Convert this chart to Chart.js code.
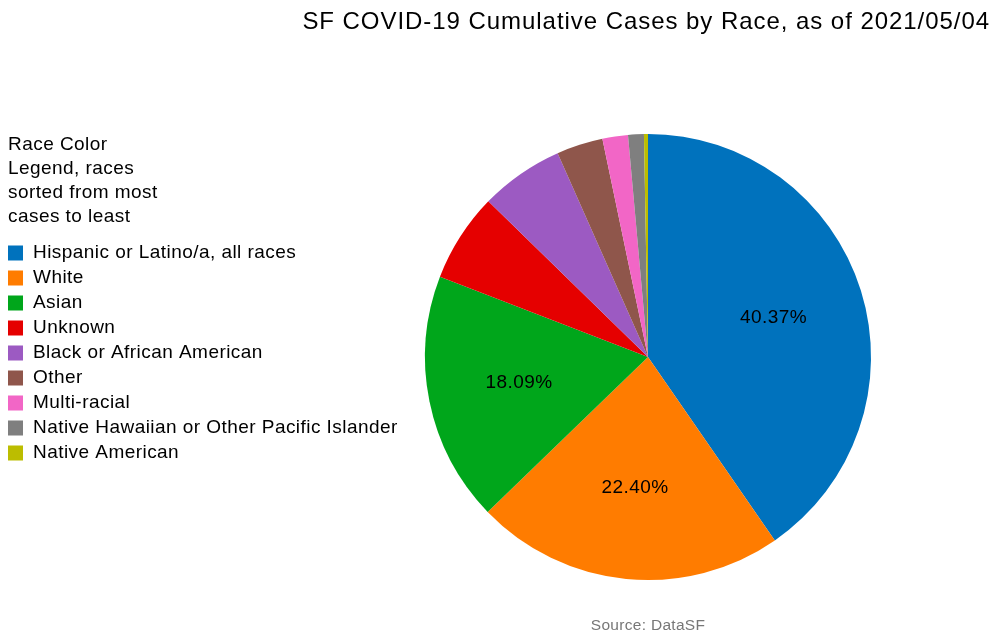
<!DOCTYPE html>
<html>
<head>
<meta charset="utf-8">
<script src="https://cdn.jsdelivr.net/npm/chart.js@4"></script>
<style>
  html, body { margin: 0; padding: 0; background: #fff; }
  #wrap { width: 1002px; height: 643px; }
</style>
</head>
<body>
<div id="wrap"><canvas id="pie" width="1002" height="643"></canvas></div>
<script>
// ── Data ──────────────────────────────────────────────────────────────────────
const RACES = [
  "Hispanic or Latino/a, all races",
  "White",
  "Asian",
  "Unknown",
  "Black or African American",
  "Other",
  "Multi-racial",
  "Native Hawaiian or Other Pacific Islander",
  "Native American"
];
const SHARES = [40.37, 22.40, 18.09, 6.44, 6.06, 3.36, 1.85, 1.14, 0.29];
const COLORS = ["#0072bd", "#ff7c00", "#00a61b", "#e50000", "#9c5ac2",
                "#8f564b", "#f266c6", "#7f7f7f", "#bcbd00"];

const TITLE = "SF COVID-19 Cumulative Cases by Race, as of 2021/05/04";
const LEGEND_TITLE = ["Race Color", "Legend, races", "sorted from most", "cases to least"];
const SOURCE = "Source: DataSF";
const FONT = '"Liberation Sans", Arial, Helvetica, sans-serif';

// ── Decorations: title, legend, source, slice labels ─────────────────────────
const decor = {
  id: "decor",
  afterDraw(chart) {
    const ctx = chart.ctx;
    ctx.save();
    ctx.textBaseline = "middle";

    // title (right aligned)
    ctx.fillStyle = "#000";
    ctx.font = "24px " + FONT;
    ctx.letterSpacing = "0.95px";
    ctx.textAlign = "left";
    const tw = ctx.measureText(TITLE).width;
    ctx.fillText(TITLE, 990 - tw, 22);

    // legend title
    ctx.font = "19px " + FONT;
    ctx.letterSpacing = "0.45px";
    LEGEND_TITLE.forEach((t, i) => ctx.fillText(t, 8, 145 + i * 24));

    // legend items
    RACES.forEach((r, i) => {
      const y = 253 + i * 25;
      ctx.fillStyle = COLORS[i];
      ctx.fillRect(8, y - 7.5, 15, 15);
      ctx.fillStyle = "#000";
      ctx.fillText(r, 33, y);
    });

    // slice labels (big slices only)
    const meta = chart.getDatasetMeta(0);
    meta.data.forEach((arc, i) => {
      if (SHARES[i] < 10) return;
      const mid = (arc.startAngle + arc.endAngle) / 2;
      const r = arc.outerRadius * 0.59;
      const txt = SHARES[i].toFixed(2) + "%";
      const w = ctx.measureText(txt).width;
      ctx.fillText(txt, arc.x + Math.cos(mid) * r - w / 2, arc.y + Math.sin(mid) * r);
    });

    // source
    ctx.fillStyle = "#777";
    ctx.font = "15.5px " + FONT;
    ctx.letterSpacing = "0.3px";
    const sw = ctx.measureText(SOURCE).width;
    ctx.fillText(SOURCE, 648 - sw / 2, 626);
    ctx.restore();
  }
};

new Chart(document.getElementById("pie"), {
  type: "pie",
  data: {
    labels: RACES,
    datasets: [{
      data: SHARES,
      backgroundColor: COLORS,
      borderWidth: 0,
      hoverOffset: 0
    }]
  },
  options: {
    responsive: false,
    animation: false,
    layout: { padding: { left: 294, right: 0, top: 134, bottom: 63 } },
    plugins: {
      legend: { display: false },
      title: { display: false },
      tooltip: { enabled: false }
    }
  },
  plugins: [decor]
});
</script>
</body>
</html>
